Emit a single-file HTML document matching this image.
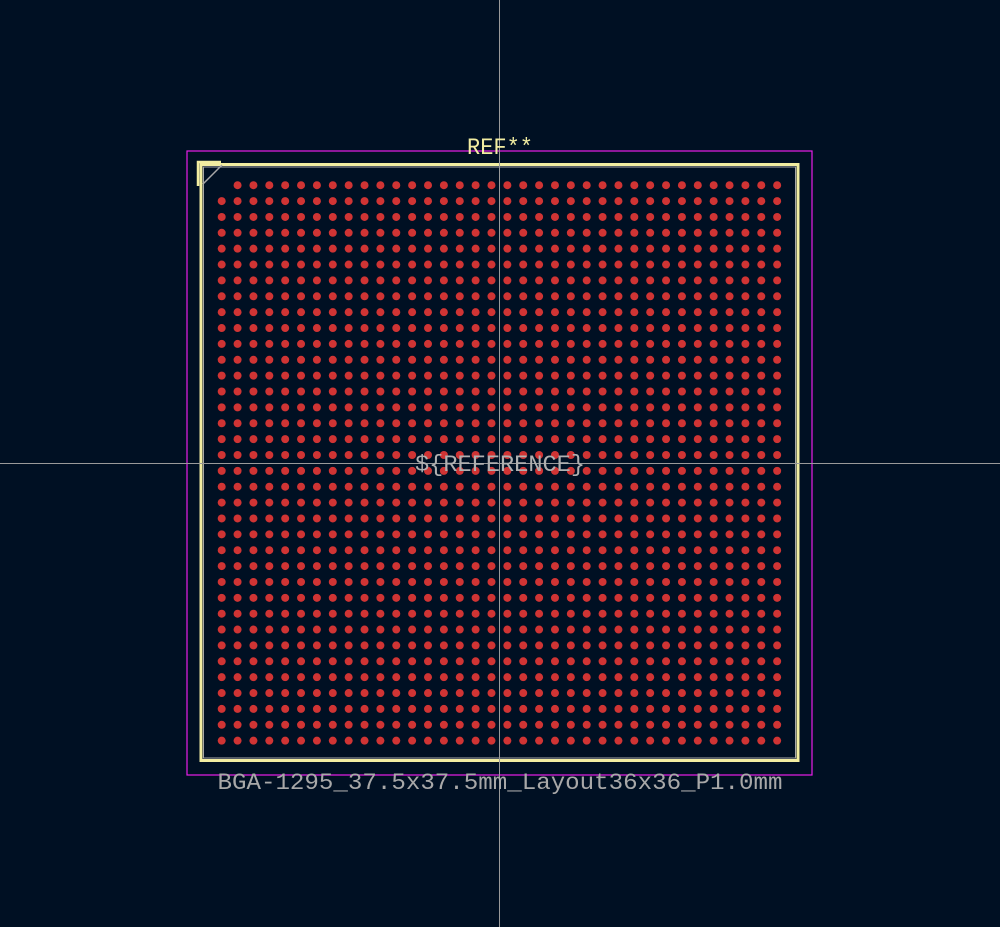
<!DOCTYPE html>
<html><head><meta charset="utf-8"><style>
html,body{margin:0;padding:0;background:#001023;}
svg{display:block}
</style></head><body>
<svg id="chart" width="1000" height="927" viewBox="0 0 1000 927" xmlns="http://www.w3.org/2000/svg">
<rect width="1000" height="927" fill="#001023"/>
<rect x="187" y="151" width="625" height="624" fill="none" stroke="#e81ee8" stroke-width="1.2"/>
<rect x="201" y="164.5" width="597" height="596" fill="none" stroke="#f2eda1" stroke-width="3"/>
<rect x="203.5" y="167" width="592" height="591" fill="none" stroke="#a8a8a8" stroke-width="1"/>
<path d="M198 186 V162 H221" fill="none" stroke="#f2eda1" stroke-width="2.5"/>
<line x1="222" y1="165" x2="203" y2="184" stroke="#a8a8a8" stroke-width="1.5"/>
<g id="pads"></g>
<line x1="499.5" y1="0" x2="499.5" y2="927" stroke="#9a9a9a" stroke-width="1"/>
<line x1="0" y1="463.5" x2="1000" y2="463.5" stroke="#9a9a9a" stroke-width="1"/>
<text x="500" y="154" text-anchor="middle" font-family="Liberation Mono, monospace" font-size="23" fill="#f2eda1" textLength="66" lengthAdjust="spacingAndGlyphs">REF**</text>
<text x="500" y="471" text-anchor="middle" font-family="Liberation Mono, monospace" font-size="23" fill="#b0b0b0" textLength="170" lengthAdjust="spacingAndGlyphs">${REFERENCE}</text>
<text x="500" y="789" text-anchor="middle" font-family="Liberation Mono, monospace" font-size="23" fill="#a8a8a8" textLength="565" lengthAdjust="spacingAndGlyphs">BGA-1295_37.5x37.5mm_Layout36x36_P1.0mm</text>
</svg>
<script>
const cols = 36;
const rows = 36;
const missing = [[0,0]];
const g = document.getElementById('pads');
const x0 = 221.7, y0 = 185.2, pitch = 15.87;
for (let r = 0; r < rows; r++) {
  for (let c = 0; c < cols; c++) {
    if (missing.some(m => m[0] === r && m[1] === c)) continue;
    const el = document.createElementNS('http://www.w3.org/2000/svg', 'circle');
    el.setAttribute('cx', x0 + c * pitch);
    el.setAttribute('cy', y0 + r * pitch);
    el.setAttribute('r', 4);
    el.setAttribute('fill', '#d03434');
    
    
    g.appendChild(el);
  }
}
</script>
</body></html>
